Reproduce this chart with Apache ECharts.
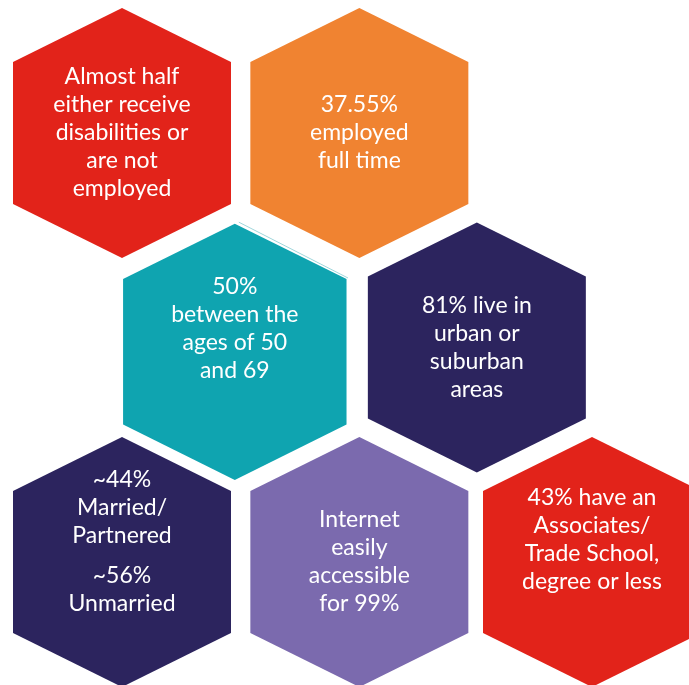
<!DOCTYPE html>
<html>
<head>
<meta charset="utf-8">
<title>Survey facts</title>
<script src="https://cdn.jsdelivr.net/npm/echarts@6/dist/echarts.min.js"></script>
<style>
  html, body { margin: 0; padding: 0; background: #fff; }
  #chart { width: 689px; height: 685px; }
</style>
</head>
<body>
<div id="chart"></div>
<script>
// one entry per hexagon, an empty line marks a paragraph break
const FACTS = [
  'Almost half\neither receive\ndisabilities or\nare not\nemployed',
  '37.55%\nemployed\nfull time',
  '50%\nbetween the\nages of 50\nand 69',
  '81% live in\nurban or\nsuburban\nareas',
  '~44%\nMarried/\nPartnered\n\n~56%\nUnmarried',
  'Internet\neasily\naccessible\nfor 99%',
  '43% have an\nAssociates/\nTrade School,\ndegree or less'
];

// honeycomb cell of each hexagon
const HEX_COLS = [0, 2.02, 0.96, 3.02, 0, 2.02, 4];
const HEX_ROWS = [0, 0, 1.02, 1, 2, 2, 2];

const COLORS = ['#e2231a', '#f08331', '#0fa4b0', '#2c245e', '#2c245e', '#7b6aae', '#e2231a'];

// hexagon geometry in px (pointy top, a bit stretched)
const HALF_W = 109;
const HALF_H = 125;
const SIDE_H = 71;
const HEX_SCALE = { 2: 1.025 };
const TEXT_SHIFT = [0, 0, -23, 0, -20, 0, -22];

const FONT = 'Lato, "Open Sans", sans-serif';
const LINE_H = 28;

function toRich(text) {
  return text.split('\n').map(line => line ? `{t|${line}}` : '{gap| }').join('\n');
}

function renderItem(params, api) {
  let i = params.dataIndex;
  let [cx, cy] = api.coord([api.value(0), api.value(1)]);
  let s = HEX_SCALE[i] || 1;
  let hw = HALF_W * s, hh = HALF_H * s, sh = SIDE_H * s;

  let children = [{
    type: 'polygon',
    shape: {
      points: [
        [cx, cy - hh], [cx + hw, cy - sh], [cx + hw, cy + sh],
        [cx, cy + hh], [cx - hw, cy + sh], [cx - hw, cy - sh]
      ]
    },
    style: { fill: COLORS[i] }
  }];

  // faint double edge seen on the teal one
  if (i === 2) {
    children.push({
      type: 'polyline',
      shape: { points: [[cx + 4, cy - hh - 1.5], [cx + hw + 1.5, cy - sh - 1]] },
      style: { stroke: '#9fd6db', lineWidth: 1, fill: null }
    });
  }

  children.push({
    type: 'text',
    x: cx,
    y: cy + TEXT_SHIFT[i],
    style: {
      text: toRich(FACTS[i]),
      align: 'center',
      verticalAlign: 'middle',
      rich: {
        t: { fill: '#fff', fontFamily: FONT, fontSize: 23, lineHeight: LINE_H, align: 'center' },
        gap: { fontSize: 6, lineHeight: 12 }
      }
    }
  });

  return { type: 'group', children };
}

let chart = echarts.init(document.getElementById('chart'));

chart.setOption({
  animation: false,
  grid: { left: 122, width: 470, top: 133, height: 429 },
  xAxis: { type: 'value', min: 0, max: 4, show: false },
  yAxis: { type: 'value', min: 0, max: 2, inverse: true, show: false },
  series: [{
    type: 'custom',
    renderItem,
    clip: false,
    data: HEX_COLS.map((c, i) => [c, HEX_ROWS[i]])
  }]
});
</script>
</body>
</html>
